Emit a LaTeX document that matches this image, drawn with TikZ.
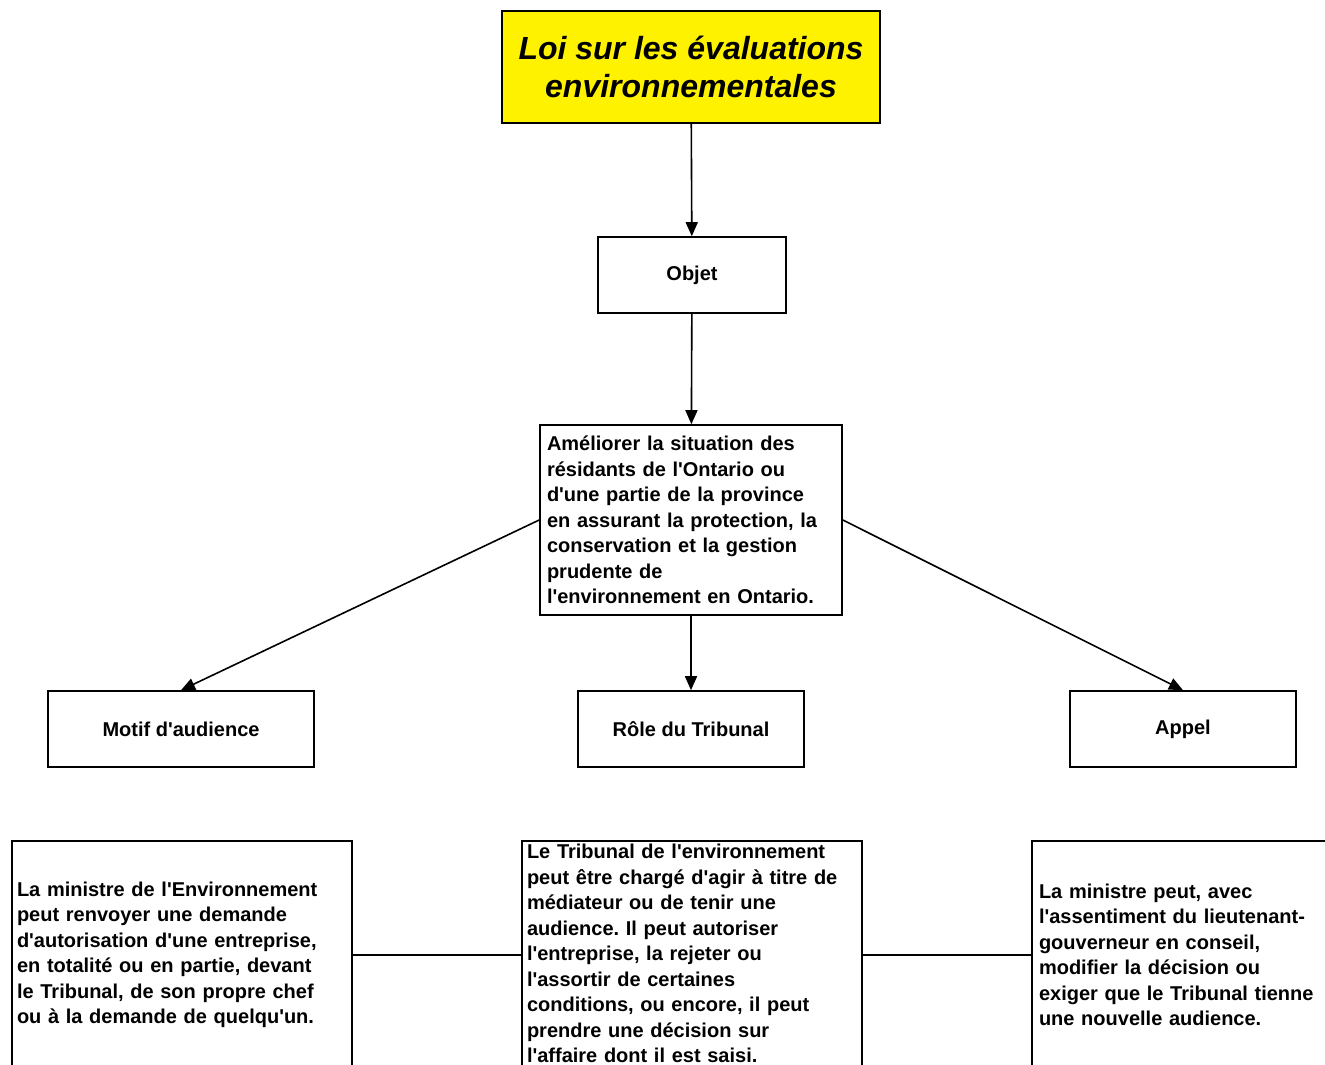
\documentclass[tikz,border=0pt]{standalone}
\usepackage{fontspec}
\setmainfont{Liberation Sans}[Ligatures=TeXOff]
\usetikzlibrary{arrows.meta}
\frenchspacing

\begin{document}
\begin{tikzpicture}[x=1pt,y=-1pt,
  box/.style={draw, line width=1.6pt, inner sep=0pt,
    font=\fontsize{20}{25.5}\selectfont\bfseries},
  textbox/.style={box, align=left, inner xsep=5pt},
  arr/.style={-{Triangle[length=14pt,width=12pt]}, line width=1.6pt}]

\useasboundingbox (0,0) rectangle (1325,1065);

\node[box, fill=yellow, minimum width=378, minimum height=112, align=center,
  font=\fontsize{32}{38}\selectfont\bfseries\itshape] (loi) at (691,67)
  {Loi sur les évaluations\\environnementales};

\node[box, minimum width=188, minimum height=76] (objet) at (692,275) {Objet};

\node[textbox, inner xsep=7pt, text width=288, minimum height=190] (but) at (691,520)
  {Améliorer la situation des\\résidants de l'Ontario ou\\d'une partie de la province\\en assurant la protection, la\\conservation et la gestion\\prudente de\\l'environnement en Ontario.};

\node[box, minimum width=266, minimum height=76] (motif) at (181,729) {Motif d'audience};
\node[box, minimum width=226, minimum height=76] (role) at (691,729) {Rôle du Tribunal};
\node[box, minimum width=226, minimum height=76] (appel) at (1183,729) {Appel};

\node[textbox, text width=330, minimum height=228] (renvoi) at (182,955)
  {La ministre de l'Environnement\\peut renvoyer une demande\\d'autorisation d'une entreprise,\\en totalité ou en partie, devant\\le Tribunal, de son propre chef\\ou à la demande de quelqu'un.};
\node[textbox, text width=330, minimum height=228] (tribunal) at (692,955)
  {Le Tribunal de l'environnement\\peut être chargé d'agir à titre de\\médiateur ou de tenir une\\audience. Il peut autoriser\\l'entreprise, la rejeter ou\\l'assortir de certaines\\conditions, ou encore, il peut\\prendre une décision sur\\l'affaire dont il est saisi.\rule[-3pt]{0pt}{3pt}};
\node[textbox, inner xsep=7pt, text width=326, minimum height=228] (ministre) at (1202,955)
  {La ministre peut, avec\\l'assentiment du lieutenant-\\gouverneur en conseil,\\modifier la décision ou\\exiger que le Tribunal tienne\\une nouvelle audience.};

% fleches
\draw[arr] (loi) -- (objet);
\draw[arr] (objet) -- (but);
\draw[arr] (but) -- (role);
\draw[arr] (but.west) -- (motif.north);
\draw[arr] (but.east) -- (appel.north);

% liens du bas
\draw[line width=1.6pt] (renvoi.east) -- (tribunal.west);
\draw[line width=1.6pt] (tribunal.east) -- (ministre.west);

\end{tikzpicture}
\end{document}
